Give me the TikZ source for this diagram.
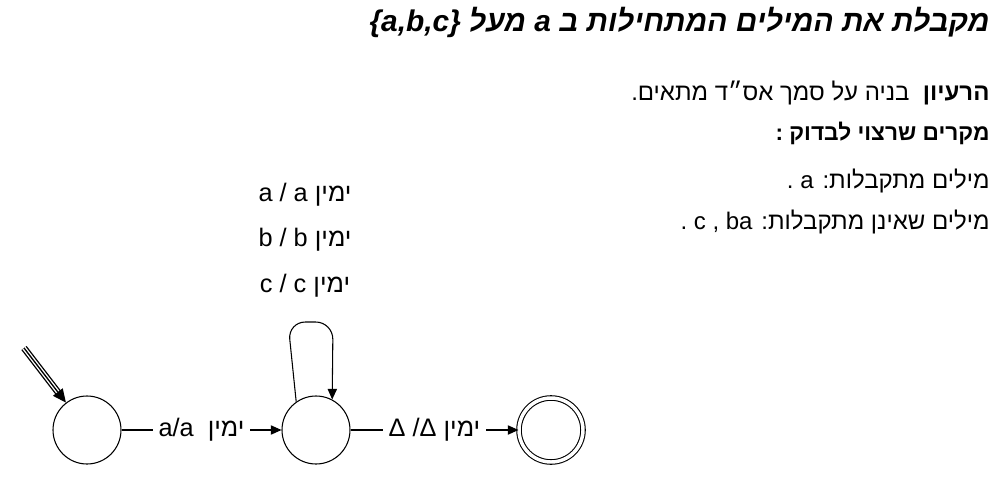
\documentclass[tikz,border=0pt]{standalone}
\usepackage{fontspec}
\setmainfont{Liberation Sans}[Script=Hebrew]
\TeXXeTstate=1
\usetikzlibrary{arrows.meta}
\newcommand{\heb}[1]{\beginR #1\endR}

\begin{document}
\begin{tikzpicture}[x=0.75pt, y=-0.75pt, line width=0.8pt, >={Triangle[length=8pt,width=7pt]}]
\tikzstyle{etat} = [draw, circle, minimum size=51pt, inner sep=0pt];
\tikzstyle{texte} = [anchor=east, inner sep=0pt, font=\fontsize{18}{21}\selectfont];
\tikzstyle{etiq} = [fill=white, inner sep=4pt, font=\fontsize{19}{22}\selectfont];
\useasboundingbox (0,0) rectangle (1008,482);

% titre et explications
\node[texte, font=\fontsize{22.4}{26}\selectfont\bfseries\itshape] (titre) at (990,22)
  {\heb{מקבלת את המילים המתחילות ב a מעל \beginL\{a,b,c\}\endL}};
\node[texte] (idee) at (990,93) {\heb{\textbf{הרעיון}\ \ בניה על סמך אס״ד מתאים.}};
\node[texte, font=\fontsize{17}{20}\selectfont] (cas) at (990,133) {\heb{\textbf{מקרים שרצוי לבדוק :}}};
\node[texte] (oui) at (990,181) {\heb{מילים מתקבלות: a .}};
\node[texte] (non) at (990,222) {\heb{מילים שאינן מתקבלות: ba , c .}};

% etats
\node[etat] (q0) at (87,430) {};
\node[etat] (q1) at (316,430) {};
\node[etat, minimum size=48pt, double, double distance=2.6pt] (q2) at (551,430) {};

% fleche initiale (trait triple)
\coordinate (init) at (24,348);
\draw[line width=5pt, shorten >=7pt] (init) -- (q0);
\draw[white, line width=3pt, shorten >=6pt] (init) -- (q0);
\draw[line width=1pt, -{Triangle[length=10pt,width=9pt]}] (init) -- (q0);

% transitions
\draw[->] (q0) -- node[etiq] {\heb{ימין\ \ a/a}} (q1);
\draw[->] (q1) -- node[etiq] {\heb{ימין \beginL Δ /Δ\endL}} (q2);
\draw[->, rounded corners=13pt] (q1.125) -- (288,322) -- (333,322) -- (q1.62);

% etiquettes de la boucle
\node[etiq] (l1) at (305,195) {\heb{ימין a / a}};
\node[etiq] (l2) at (305,240) {\heb{ימין b / b}};
\node[etiq] (l3) at (305,286) {\heb{ימין c / c}};
\end{tikzpicture}
\end{document}
